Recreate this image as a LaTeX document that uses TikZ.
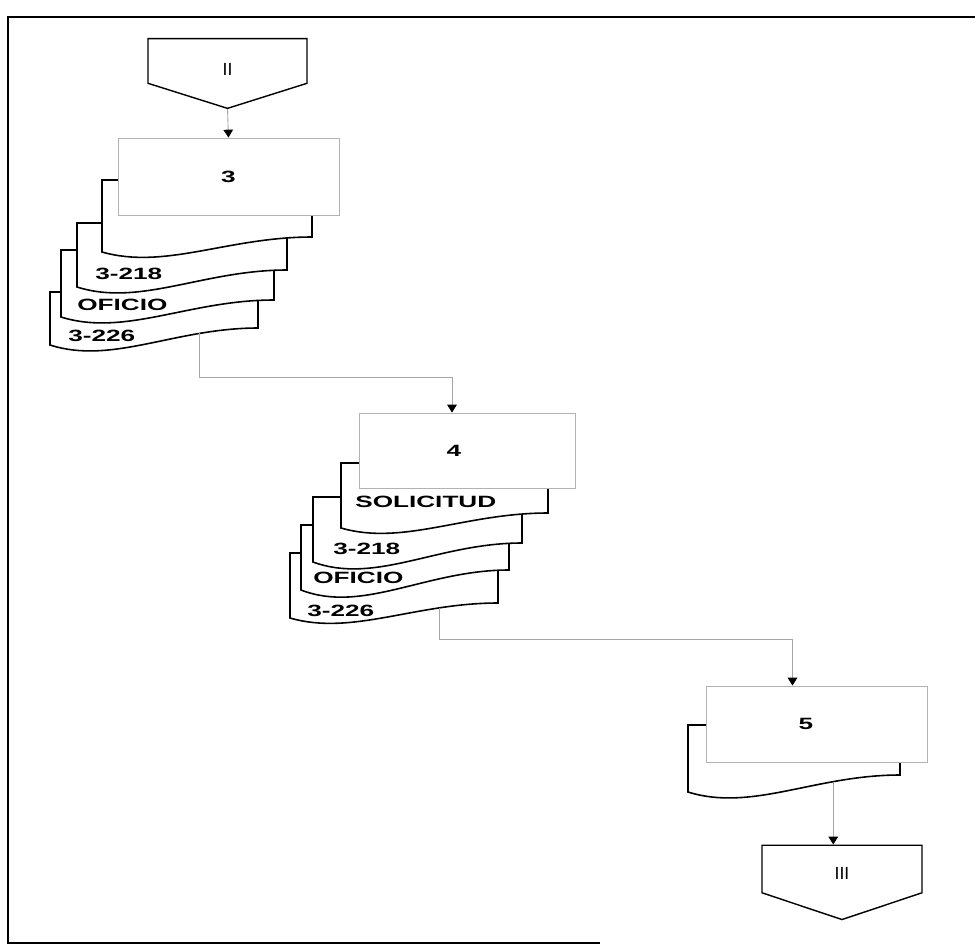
\documentclass[tikz,border=0pt]{standalone}
\usepackage{fontspec}
\setmainfont{Liberation Sans}
\newfontfamily\widefont[FakeStretch=1.6]{Liberation Sans}
\usetikzlibrary{arrows.meta,shapes.symbols,calc}

\begin{document}
\begin{tikzpicture}[x=0.02cm, y=-0.02cm,
    proc/.style={draw=gray!60, line width=0.5pt, fill=white, minimum width=4.42cm, minimum height=1.54cm, font=\widefont\bfseries\fontsize{9.3}{11}\selectfont},
    sheet/.style={draw, line width=0.9pt, fill=white},
    doclbl/.style={anchor=west, inner sep=0pt, font=\widefont\bfseries\fontsize{9.3}{11}\selectfont},
    offpage/.style={draw, line width=0.8pt, fill=white, shape=signal, signal to=south, signal from=nowhere, signal pointer angle=145, minimum width=3.18cm, minimum height=0.96cm, text depth=0pt, font=\fontsize{10}{12}\selectfont},
    flow/.style={draw=gray!70, line width=0.5pt, -{Triangle[width=5.5pt,length=4.5pt,color=black]}}
]
\useasboundingbox (0,0) rectangle (975,951);
\draw[line width=1pt] (975,17) -- (8,17) -- (8,943) -- (600,943);

% conector de entrada
\node[offpage, text height=17pt] (ii) at (227.5,61) {II};

% pila del paso 3
\draw[sheet] (50,292) -- (258,292) -- (258,328) .. controls (175,328) and (112,365) .. (50,345) coordinate[pos=0.25] (out3) -- cycle;
\draw[sheet] (61,250) -- (274,250) -- (274,300) .. controls (189,300) and (125,337) .. (61,317) -- cycle;
\draw[sheet] (77,223) -- (287,223) -- (287,270) .. controls (203,270) and (140,307) .. (77,287) -- cycle;
\draw[sheet] (102,180) -- (312,180) -- (312,237) .. controls (228,237) and (165,270) .. (102,252) -- cycle;
\node[proc] (box3) at (228.5,176.5) {3};

% pila del paso 4
\draw[sheet] (290,553) -- (498,553) -- (498,603) .. controls (415,603) and (352,636) .. (290,618) coordinate[pos=0.25] (out4) -- cycle;
\draw[sheet] (301,525) -- (509,525) -- (509,570) .. controls (426,570) and (363,614) .. (301,590) -- cycle;
\draw[sheet] (313,497) -- (522,497) -- (522,543) .. controls (438,543) and (376,585) .. (313,562) -- cycle;
\draw[sheet] (341,463) -- (548,463) -- (548,513) .. controls (465,513) and (403,546) .. (341,528) -- cycle;
\node[proc, minimum width=4.32cm, minimum height=1.5cm] (box4) at (467,450.5) {\hspace*{-15pt}4};

% paso 5
\draw[sheet] (688,725) -- (900,725) -- (900,775) .. controls (815,775) and (752,812) .. (688,792) coordinate[pos=0.28] (out5) -- cycle;
\node[proc, minimum height=1.52cm] (box5) at (816.5,724) {\hspace*{-12pt}5};

% conector de salida
\node[offpage, text height=12pt, signal pointer angle=143, minimum width=3.2cm, minimum height=1.04cm] (iii) at (842,869) {III};

% rotulos de documentos
\node[doclbl] (d3a) at (95,274) {3-218};
\node[doclbl] (d3b) at (77,305) {OFICIO};
\node[doclbl] (d3c) at (68,336) {3-226};
\node[doclbl] (d4a) at (355,502) {SOLICITUD};
\node[doclbl] (d4b) at (333,549) {3-218};
\node[doclbl] (d4c) at (313,578) {OFICIO};
\node[doclbl] (d4d) at (307,611) {3-226};

\draw[flow] (ii.south) -- (box3.north);
\draw[flow] (out3) -- ++(0,44) -| ($(box4.north)+(-15,0)$);
\draw[flow] (out4) -- ++(0,32) -| ($(box5.north)+(-24,0)$);
\draw[flow] (out5) -- (out5 |- iii.north);
\end{tikzpicture}
\end{document}
